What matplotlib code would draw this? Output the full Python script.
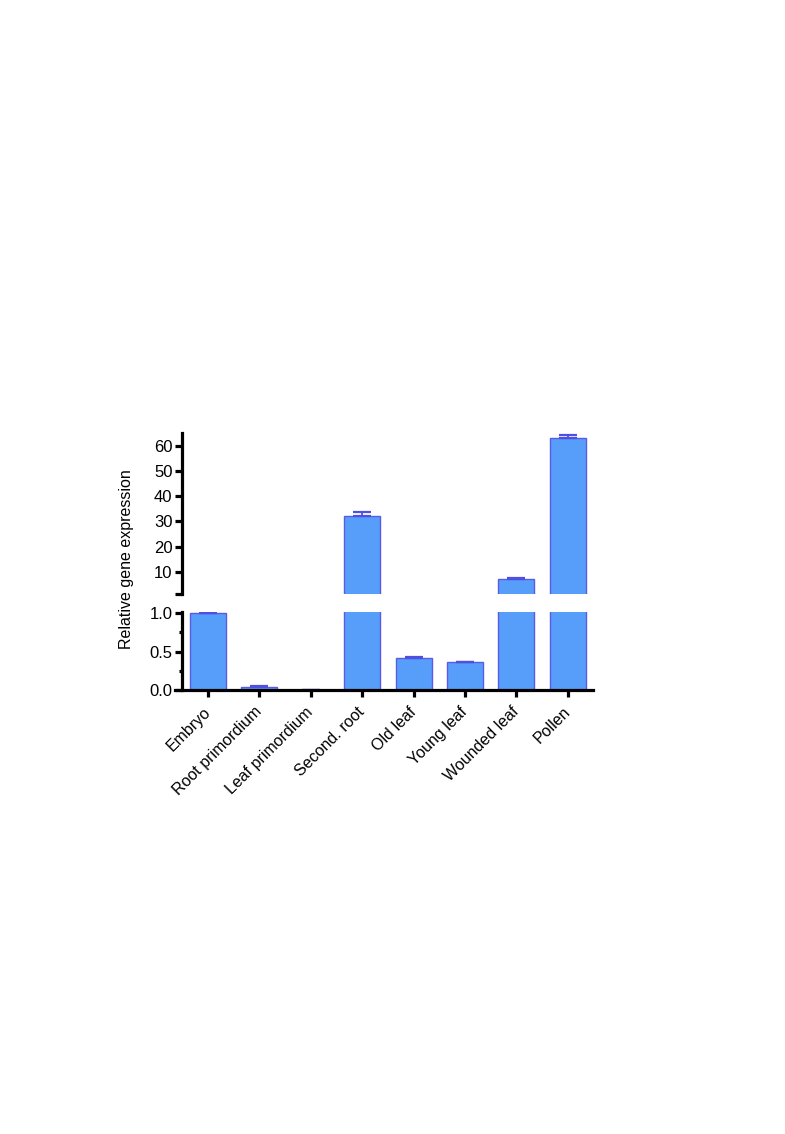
import matplotlib
matplotlib.use("Agg")
import matplotlib.pyplot as plt
import numpy as np

plt.rcParams['font.family'] = ['Liberation Sans', 'DejaVu Sans']

categories = ["Embryo", "Root primordium", "Leaf primordium", "Second. root",
              "Old leaf", "Young leaf", "Wounded leaf", "Pollen"]
values = [1.0, 0.043, 0.003, 32.0, 0.413, 0.36, 7.3, 63.1]
errors = [0.0, 0.008, 0.0, 1.6, 0.012, 0.006, 0.2, 1.1]

fill = "#579EFB"
edge = "#5A5AE6"
ecol = "#5050E0"
W, H = 785, 1134
fig = plt.figure(figsize=(W / 100, H / 100), dpi=100)

left = 175 / W
width = 418 / W
ax_top = fig.add_axes([left, 1 - 594 / H, width, 161 / H])
ax_bot = fig.add_axes([left, 1 - 690 / H, width, 78.5 / H])

x = np.arange(len(categories))
vals = np.array(values)
errs = np.array(errors)
for ax, lo in ((ax_top, 1.2), (ax_bot, 0.0)):
    m = vals > lo
    ax.bar(x[m], vals[m], width=0.7, color=fill, edgecolor=edge, linewidth=1.0,
           yerr=[np.zeros(m.sum()), errs[m]],
           error_kw=dict(ecolor=ecol, elinewidth=1.3, capsize=6.5, capthick=1.6))
    ax.set_xlim(-0.64, 7.49)
    for s in ("top", "right"):
        ax.spines[s].set_visible(False)
    ax.spines['left'].set_position(('data', -0.5))
    ax.spines['left'].set_linewidth(2.3)
    ax.spines['bottom'].set_linewidth(2.3)
    ax.tick_params(axis='y', width=2.3, length=5, labelsize=12, pad=2)
    ax.tick_params(axis='y', which='minor', width=2.3, length=2.5)

ax_top.set_ylim(1.2, 65)
ax_top.set_yticks([1.2, 10, 20, 30, 40, 50, 60])
ax_top.set_yticklabels(["", "10", "20", "30", "40", "50", "60"])
ax_top.spines['bottom'].set_visible(False)
ax_top.set_xticks([])

ax_bot.set_ylim(0, 1.02)
ax_bot.set_yticks([0.0, 0.5, 1.0])
ax_bot.set_yticklabels(["0.0", "0.5", "1.0"])
ax_bot.set_yticks([0.25, 0.75], minor=True)
ax_bot.set_xticks(x)
ax_bot.set_xticklabels(categories, rotation=45, ha='right', va='center',
                       rotation_mode='anchor', fontsize=11.5)
ax_bot.tick_params(axis='x', width=2.3, length=5, pad=9)

fig.text(127 / W, 1 - 559 / H, "Relative gene expression", rotation=90,
         ha='center', va='center', fontsize=11.5)

fig.savefig("out.png", dpi=100)
